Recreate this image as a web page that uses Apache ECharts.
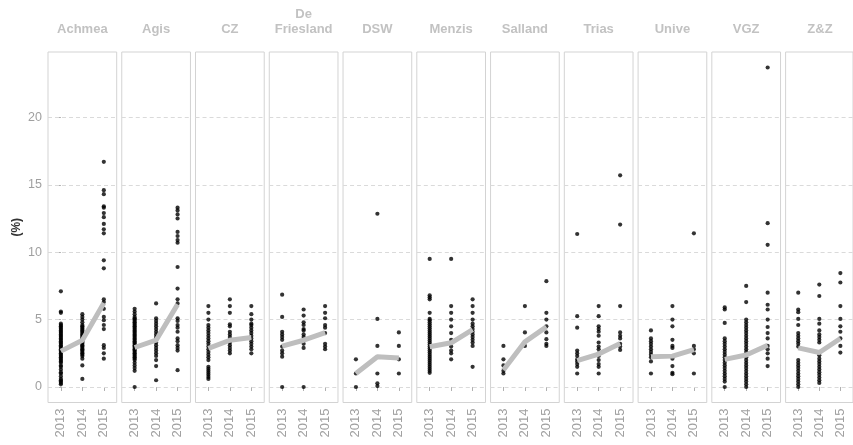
<!DOCTYPE html>
<html>
<head>
<meta charset="utf-8">
<script src="https://cdn.jsdelivr.net/npm/echarts@6/dist/echarts.min.js"></script>
<style>html,body{margin:0;padding:0;background:#fff}#c{width:853px;height:445px}</style>
</head>
<body>
<div id="c"></div>
<script>
const companies = ['Achmea','Agis','CZ','De\nFriesland','DSW','Menzis','Salland','Trias','Unive','VGZ','Z&Z'];
const years = ['2013','2014','2015'];
const yTicks = [0,5,10,15,20];

const achmea = [
  [0.2,0.3,0.4,0.5,0.6,0.8,1.0,1.1,1.3,1.5,1.6,1.8,1.9,2.0,2.1,2.2,2.3,2.4,2.5,2.6,2.7,2.8,2.9,3.0,3.1,3.2,3.3,3.4,3.5,3.6,3.7,3.8,3.9,4.0,4.1,4.2,4.3,4.4,4.5,4.6,4.7,5.5,5.6,7.1],
  [0.6,1.6,2.1,2.3,2.4,2.5,2.6,2.7,2.8,2.9,3.0,3.1,3.2,3.3,3.4,3.5,3.6,3.7,3.8,3.9,4.0,4.1,4.2,4.3,4.4,4.5,4.6,4.8,5.0,5.2,5.4],
  [2.1,2.5,2.9,3.1,4.3,4.6,4.95,5.2,5.8,6.3,6.5,8.8,9.4,11.4,11.7,12.1,12.6,12.9,13.3,13.4,14.3,14.6,16.7]
];
const agis = [
  [0.0,1.2,1.4,1.6,1.8,2.0,2.1,2.2,2.3,2.4,2.5,2.6,2.7,2.8,2.9,3.0,3.1,3.2,3.3,3.4,3.5,3.6,3.7,3.8,3.9,4.0,4.1,4.2,4.3,4.4,4.5,4.6,4.7,4.8,4.9,5.0,5.1,5.2,5.4,5.6,5.8],
  [0.5,1.55,2.0,2.3,2.5,2.7,2.9,3.1,3.3,3.5,3.7,3.9,4.1,4.3,4.5,4.7,4.9,5.1,6.2],
  [1.25,2.7,2.9,3.1,3.4,3.6,4.1,4.4,4.6,4.9,5.1,6.2,6.5,7.3,8.9,10.7,10.9,11.2,11.5,12.5,12.8,13.1,13.3]
];
const cz = [
  [0.6,0.75,0.9,1.05,1.2,1.35,1.5,2.0,2.2,2.4,2.6,2.8,3.0,3.2,3.4,3.6,3.8,4.0,4.2,4.4,4.6,5.0,5.5,6.0],
  [2.5,2.7,2.9,3.1,3.3,3.5,3.7,3.9,4.1,4.5,4.65,5.5,6.0,6.5],
  [2.5,2.8,3.0,3.2,3.4,3.6,3.8,4.0,4.2,4.4,4.6,4.7,5.0,5.4,6.0]
];
const deFriesland = [
  [0.0,2.25,2.5,2.7,3.0,3.5,3.7,3.9,4.1,5.2,6.85],
  [0.0,2.9,3.2,3.7,3.9,4.2,4.3,4.6,4.8,5.3,5.75],
  [2.8,3.0,3.2,4.0,4.4,4.6,5.1,5.5,6.0]
];
const dsw = [
  [0.0,1.0,2.05],
  [0.07,0.27,1.0,3.05,5.05,12.85],
  [1.0,2.05,3.05,4.05]
];
const menzis = [
  [1.05,1.2,1.35,1.5,1.65,1.8,1.95,2.1,2.25,2.4,2.55,2.7,2.85,3.0,3.15,3.3,3.45,3.6,3.75,3.9,4.05,4.2,4.35,4.5,4.65,4.8,4.95,5.05,5.5,6.5,6.65,6.8,9.5],
  [2.05,2.5,2.7,3.0,3.5,4.0,4.5,5.0,5.5,6.0,9.5],
  [1.5,3.05,3.3,3.5,3.7,3.9,4.1,4.3,4.5,4.7,5.0,5.5,6.0,6.5]
];
const salland = [
  [1.0,1.2,1.6,2.05,3.05],
  [3.05,4.05,6.0],
  [3.05,3.2,3.55,4.05,4.5,5.0,5.5,7.85]
];
const trias = [
  [1.0,1.5,1.7,1.9,2.05,2.3,2.5,2.7,4.4,5.25,11.35],
  [1.0,1.5,1.7,2.0,2.3,2.5,2.8,3.0,3.3,3.8,4.1,4.3,4.5,5.25,6.0],
  [2.75,3.0,3.2,3.6,3.8,4.05,6.0,12.05,15.7]
];
const unive = [
  [1.0,1.9,2.2,2.4,2.6,2.8,3.0,3.2,3.4,3.6,4.2],
  [0.95,1.05,1.55,2.1,2.9,3.05,3.5,4.5,5.0,6.0],
  [1.0,2.5,2.8,3.05,11.4]
];
const vgz = [
  [0.0,0.4,0.6,0.8,1.0,1.2,1.4,1.6,1.8,2.0,2.2,2.4,2.6,2.8,3.0,3.2,3.4,3.6,4.75,5.75,5.9],
  [0.0,0.2,0.4,0.6,0.8,1.0,1.2,1.4,1.6,1.8,2.0,2.2,2.4,2.6,2.8,3.0,3.2,3.4,3.6,3.8,4.0,4.2,4.4,4.6,4.8,5.0,6.3,7.5],
  [1.55,2.1,2.5,2.8,3.05,3.6,4.0,4.45,5.0,5.75,6.1,7.0,10.55,12.15,23.7]
];
const zz = [
  [0.0,0.2,0.4,0.6,0.8,1.0,1.2,1.4,1.6,1.8,2.0,3.0,3.2,3.4,3.6,3.8,4.0,4.6,5.05,5.55,5.75,7.0],
  [0.3,0.5,0.7,0.9,1.1,1.3,1.5,1.7,1.9,2.1,2.35,3.3,3.5,3.7,3.9,4.2,4.7,5.05,6.75,7.6],
  [2.55,3.05,3.6,4.1,4.5,5.05,6.0,7.75,8.45]
];
const points = [achmea, agis, cz, deFriesland, dsw, menzis, salland, trias, unive, vgz, zz];

const means = [
  [2.66,3.47,6.23],
  [2.93,3.47,6.13],
  [2.86,3.47,3.67],
  [3.03,3.47,4.04],
  [1.0,2.25,2.15],
  [2.98,3.28,4.26],
  [1.26,3.35,4.46],
  [1.95,2.44,3.23],
  [2.24,2.29,2.78],
  [2.05,2.37,3.1],
  [2.9,2.56,3.6]
];

const panelLeft = 48, panelStep = 73.76, panelW = 68.7, panelTop = 52, panelH = 350.5;
const FONT = 'Liberation Sans, Arial, sans-serif';

const grids = [], xAxes = [], yAxes = [], series = [], graphics = [];
companies.forEach((name, i) => {
  const left = panelLeft + i * panelStep;
  grids.push({left: left, top: panelTop, width: panelW, height: panelH, show: true,
    borderColor: '#d3d3d3', borderWidth: 1, backgroundColor: 'transparent'});
  xAxes.push({type: 'value', gridIndex: i, min: -0.6, max: 2.6,
    axisLine: {show: false}, splitLine: {show: false},
    axisTick: {show: true, customValues: [0,1,2], length: 4, lineStyle: {color: '#b0b0b0'}},
    axisLabel: {show: true, customValues: [0,1,2], rotate: 90, margin: 6,
      formatter: v => years[Math.round(v)], color: '#a0a0a0', fontSize: 13, fontFamily: FONT}});
  yAxes.push({type: 'value', gridIndex: i, min: -1.15, max: 24.85,
    axisLine: {show: false}, splitLine: {show: false},
    axisTick: {show: i === 0, customValues: yTicks, length: 4, lineStyle: {color: '#b0b0b0'}},
    axisLabel: {show: i === 0, customValues: yTicks, margin: 6, color: '#a0a0a0', fontSize: 12.5, fontFamily: FONT},
    name: i === 0 ? '(%)' : '', nameLocation: 'middle', nameGap: 25, nameRotate: 90,
    nameTextStyle: {color: '#333', fontWeight: 'bold', fontSize: 12, fontFamily: FONT}});
  const pts = [];
  points[i].forEach((arr, k) => arr.forEach(v => pts.push([k, v])));
  series.push({type: 'scatter', xAxisIndex: i, yAxisIndex: i, data: pts, symbolSize: 4.2,
    itemStyle: {color: '#000'}, z: 2, silent: true,
    markLine: {silent: true, symbol: 'none', z: 1, label: {show: false},
      lineStyle: {type: [4, 3], color: '#dadada', width: 1},
      data: yTicks.map(v => ({yAxis: v}))}});
  series.push({type: 'line', xAxisIndex: i, yAxisIndex: i,
    data: means[i].map((v, k) => [k, v]), symbol: 'none', z: 3, silent: true,
    lineStyle: {color: '#bebebe', width: 5, cap: 'butt', join: 'round'}});
  graphics.push({type: 'text', x: left + panelW / 2, y: 36.5, silent: true,
    style: {text: name, align: 'center', verticalAlign: 'bottom', fill: '#c2c2c2',
      font: 'bold 13px ' + FONT, lineHeight: 15}});
});

const chart = echarts.init(document.getElementById('c'), null, {renderer: 'canvas'});
chart.setOption({
  animation: false,
  backgroundColor: '#fff',
  grid: grids, xAxis: xAxes, yAxis: yAxes, series: series, graphic: graphics
});
</script>
</body>
</html>
